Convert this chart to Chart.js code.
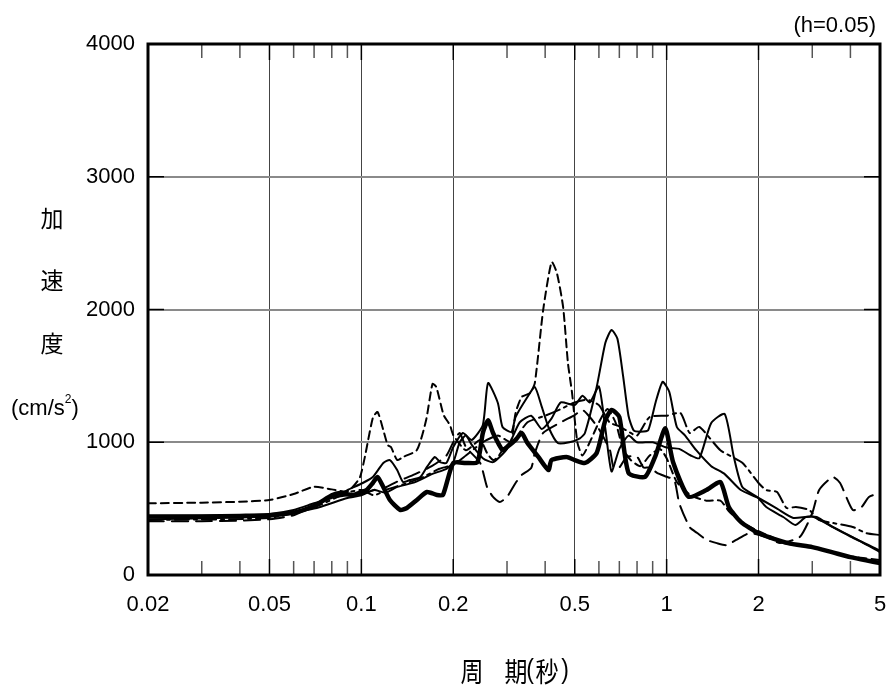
<!DOCTYPE html>
<html>
<head>
<meta charset="utf-8">
<script src="https://cdn.jsdelivr.net/npm/chart.js@4.4.1/dist/chart.umd.min.js"></script>
<style>
  body { margin: 0; background: #fff; }
  canvas { display: block; }
</style>
</head>
<body>
<canvas id="spectrum" width="888" height="689"></canvas>
<script>
// tick values
const xTicks = [0.02, 0.05, 0.1, 0.2, 0.5, 1, 2, 5];
const xMinor = [0.03, 0.04, 0.06, 0.07, 0.08, 0.09, 0.3, 0.4, 0.6, 0.7, 0.8, 0.9, 3, 4];
const yTicks = [0, 1000, 2000, 3000, 4000];

// thick solid
const periodThick = [0.02, 0.03, 0.04, 0.05, 0.06, 0.07, 0.08, 0.085, 0.094, 0.1, 0.104, 0.109, 0.113, 0.118, 0.124,
    0.134, 0.141, 0.152, 0.164, 0.177, 0.185, 0.2, 0.22, 0.24, 0.25, 0.26, 0.27, 0.29, 0.3, 0.32, 0.335, 0.35, 0.38,
    0.41, 0.42, 0.47, 0.5, 0.54, 0.59, 0.63, 0.66, 0.7, 0.75, 0.85, 0.92, 0.99, 1.05, 1.18, 1.35, 1.5, 1.6, 1.75, 2,
    2.5, 3, 3.5, 4, 4.5, 5];
const accThick = [440, 440, 445, 450, 470, 520, 600, 617, 603, 625, 640, 693, 738, 663, 565,
    490, 505, 565, 625, 603, 603, 844, 844, 851, 1070, 1165, 1070, 941, 964, 1017, 1070, 994, 889,
    791, 866, 889, 866, 844, 919, 1168, 1243, 1190, 770, 740, 900, 1105, 850, 590, 640, 700, 510, 400, 315,
    240, 210, 170, 135, 110, 90];

// thin solid (peak near 0.66 s)
const periodThinA = [0.02, 0.04, 0.05, 0.06, 0.07, 0.08, 0.09, 0.101, 0.109, 0.118, 0.124, 0.131, 0.137, 0.144, 0.156,
    0.164, 0.174, 0.181, 0.19, 0.2, 0.215, 0.23, 0.25, 0.26, 0.28, 0.29, 0.31, 0.32, 0.35, 0.37, 0.39, 0.41, 0.44,
    0.48, 0.52, 0.54, 0.59, 0.63, 0.66, 0.69, 0.72, 0.75, 0.78, 0.82, 0.87, 0.92, 0.97, 1.02, 1.08, 1.15, 1.25,
    1.4, 1.55, 1.75, 2, 2.3, 2.6, 3, 3.5, 4, 5];
const accThinA = [445, 450, 460, 490, 540, 580, 640, 693, 738, 844, 866, 791, 700, 715, 738,
    814, 889, 851, 844, 964, 1070, 1017, 1130, 1446, 1296, 1115, 1077, 1190, 1341, 1416, 1266, 1115, 994,
    1000, 1030, 1070, 1416, 1750, 1846, 1780, 1500, 1200, 1090, 1080, 1090, 1300, 1455, 1380, 1115, 1050, 940,
    820, 760, 640, 580, 500, 430, 440, 360, 290, 185];

// thin solid (peak near 1.55 s)
const periodThinB = [0.02, 0.05, 0.07, 0.09, 0.1, 0.11, 0.12, 0.13, 0.15, 0.17, 0.19, 0.2, 0.21, 0.22, 0.23, 0.25,
    0.27, 0.3, 0.33, 0.36, 0.39, 0.42, 0.45, 0.5, 0.53, 0.56, 0.6, 0.63, 0.66, 0.7, 0.75, 0.8, 0.9, 1, 1.1, 1.2,
    1.28, 1.4, 1.55, 1.66, 1.77, 1.98, 2.12, 2.41, 2.64, 2.86, 3.1, 3.5, 4.07, 5];
const accThinB = [420, 440, 500, 580, 600, 640, 620, 660, 700, 760, 800, 850, 1000, 1050, 980, 880,
    850, 950, 1150, 1200, 1100, 1180, 1300, 1280, 1350, 1300, 1420, 1100, 780, 950, 1050, 1000, 1000, 960, 950, 900,
    880, 1145, 1213, 890, 663, 588, 512, 437, 377, 437, 437, 362, 286, 173];

// short dashed
const periodDash = [0.02, 0.03, 0.04, 0.05, 0.06, 0.07, 0.08, 0.09, 0.099, 0.109, 0.113, 0.118, 0.122, 0.125, 0.131,
    0.137, 0.152, 0.163, 0.171, 0.176, 0.186, 0.195, 0.2, 0.22, 0.245, 0.258, 0.27, 0.28, 0.29, 0.31, 0.32, 0.335,
    0.357, 0.37, 0.394, 0.42, 0.437, 0.458, 0.475, 0.49, 0.51, 0.53, 0.56, 0.6, 0.64, 0.68, 0.72, 0.76, 0.82, 0.88,
    0.95, 1, 1.08, 1.2, 1.35, 1.5, 1.6, 1.75, 2, 2.3, 2.6, 3, 3.5, 4, 5];
const accDash = [540, 545, 552, 565, 610, 665, 645, 630, 738, 1183, 1228, 1092, 979, 964, 866,
    889, 941, 1168, 1439, 1416, 1205, 1130, 1054, 940, 1017, 919, 866, 889, 941, 1017, 1220, 1341,
    1371, 1446, 1996, 2358, 2275, 2019, 1597, 1371, 1000, 900, 1000, 1150, 1250, 1150, 950, 870, 820, 900,
    950, 880, 700, 600, 560, 560, 480, 400, 330, 270, 230, 210, 170, 140, 113];

// long dashed
const periodLong = [0.02, 0.03, 0.04, 0.05, 0.06, 0.07, 0.08, 0.09, 0.1, 0.11, 0.12, 0.13, 0.15, 0.17, 0.19, 0.2,
    0.21, 0.22, 0.245, 0.258, 0.27, 0.284, 0.3, 0.32, 0.335, 0.36, 0.37, 0.394, 0.45, 0.5, 0.53, 0.56, 0.6, 0.652,
    0.67, 0.7, 0.74, 0.8, 0.84, 0.88, 0.93, 1, 1.06, 1.1, 1.19, 1.26, 1.35, 1.46, 1.57, 1.69, 1.87, 2.12, 2.35,
    2.73, 3, 3.16, 3.5, 3.7, 4.07, 4.35, 4.6, 5];
const accLong = [405, 405, 410, 420, 450, 520, 580, 600, 610, 640, 660, 700, 760, 820, 900, 1000,
    1070, 964, 844, 663, 588, 550, 588, 693, 753, 806, 919, 1070, 1150, 1205, 1243, 1190, 1100, 940,
    810, 810, 890, 890, 810, 810, 770, 740, 715, 540, 360, 316, 265, 240, 225, 264, 316, 286, 241,
    286, 467, 640, 738, 693, 490, 512, 588, 618];

// dash-dot
const periodDot = [0.02, 0.05, 0.07, 0.09, 0.1, 0.11, 0.12, 0.14, 0.16, 0.18, 0.2, 0.22, 0.25, 0.28, 0.31, 0.35,
    0.4, 0.45, 0.5, 0.55, 0.6, 0.65, 0.7, 0.75, 0.8, 0.88, 1, 1.11, 1.19, 1.28, 1.5, 1.77, 2, 2.12, 2.3, 2.47,
    2.65, 2.93, 3.15, 3.5, 4.07, 4.5, 5];
const accDot = [415, 430, 510, 620, 640, 600, 640, 690, 740, 800, 830, 900, 1000, 1050, 1000, 1150,
    1200, 1250, 1300, 1320, 1280, 1150, 1120, 1080, 1050, 1190, 1200, 1220, 1070, 1115, 940, 845, 693, 640, 625, 505,
    513, 490, 415, 392, 362, 316, 301];

function points(periods, values) {
    return periods.map((p, i) => ({ x: p, y: values[i] }));
}

const axisFont = { family: '"Liberation Sans", Arial, sans-serif', size: 22 };

const decor = {
    id: 'decor',
    afterDatasetsDraw(chart) {
        const { ctx, chartArea: a, scales: { x, y } } = chart;
        ctx.save();
        function seg(x1, y1, x2, y2) {
            ctx.beginPath();
            ctx.moveTo(x1, y1);
            ctx.lineTo(x2, y2);
            ctx.stroke();
        }
        // minor ticks on top and bottom
        ctx.strokeStyle = '#555';
        ctx.lineWidth = 1.5;
        xMinor.forEach(v => {
            const px = x.getPixelForValue(v);
            seg(px, a.bottom, px, a.bottom - 14);
            seg(px, a.top, px, a.top + 14);
        });
        // major ticks
        ctx.strokeStyle = '#000';
        xTicks.forEach(v => {
            const px = x.getPixelForValue(v);
            seg(px, a.bottom, px, a.bottom - 16);
            seg(px, a.top, px, a.top + 16);
        });
        yTicks.forEach(v => {
            const py = y.getPixelForValue(v);
            seg(a.left, py, a.left + 16, py);
            seg(a.right, py, a.right - 16, py);
        });
        // frame
        ctx.lineWidth = 3;
        ctx.strokeRect(a.left, a.top, a.width, a.height);
        ctx.restore();
    },
    afterDraw(chart) {
        const { ctx, chartArea: a } = chart;
        ctx.save();
        ctx.fillStyle = '#000';
        ctx.textBaseline = 'middle';
        ctx.textAlign = 'center';

        // y axis title, stacked
        ctx.font = '23px "Noto Sans CJK JP", sans-serif';
        ctx.fillText('加', 52, 218);
        ctx.fillText('速', 52, 280);
        ctx.fillText('度', 52, 343);
        ctx.font = '22px "Liberation Sans", sans-serif';
        ctx.textAlign = 'left';
        let cx = 11;
        ctx.fillText('(cm/s', cx, 409);
        cx += ctx.measureText('(cm/s').width;
        ctx.font = '12px "Liberation Sans", sans-serif';
        ctx.fillText('2', cx, 400);
        cx += ctx.measureText('2').width;
        ctx.font = '22px "Liberation Sans", sans-serif';
        ctx.fillText(')', cx, 409);

        // x axis title, a little taller than wide like the original
        ctx.save();
        ctx.translate(0, 672);
        ctx.scale(1, 1.2);
        ctx.textAlign = 'center';
        ctx.font = '23px "Noto Sans CJK JP", sans-serif';
        ctx.fillText('周', 472, 0);
        ctx.fillText('期', 516, 0);
        ctx.fillText('秒', 547, 0);
        ctx.font = '23px "Liberation Sans", sans-serif';
        ctx.fillText('(', 530, -1);
        ctx.fillText(')', 565, -1);
        ctx.restore();

        // damping note
        ctx.font = '22px "Liberation Sans", sans-serif';
        ctx.textAlign = 'right';
        ctx.fillText('(h=0.05)', a.right - 4, 26);
        ctx.restore();
    }
};

new Chart(document.getElementById('spectrum'), {
    type: 'line',
    data: {
        datasets: [
            { label: 'long', data: points(periodLong, accLong), borderWidth: 2, borderDash: [16, 8] },
            { label: 'dashdot', data: points(periodDot, accDot), borderWidth: 2, borderDash: [14, 5, 3, 5] },
            { label: 'dash', data: points(periodDash, accDash), borderWidth: 2, borderDash: [8, 5] },
            { label: 'thinB', data: points(periodThinB, accThinB), borderWidth: 2 },
            { label: 'thinA', data: points(periodThinA, accThinA), borderWidth: 2 },
            { label: 'thick', data: points(periodThick, accThick), borderWidth: 4.5 }
        ]
    },
    options: {
        responsive: false,
        animation: false,
        layout: { padding: { top: 44, right: 8, left: 0, bottom: 0 } },
        elements: {
            point: { radius: 0 },
            line: { tension: 0.2, borderColor: '#000', fill: false, borderJoinStyle: 'round', borderCapStyle: 'round' }
        },
        plugins: {
            legend: { display: false },
            tooltip: { enabled: false }
        },
        scales: {
            x: {
                type: 'logarithmic',
                min: 0.02,
                max: 5,
                afterBuildTicks: s => { s.ticks = xTicks.map(v => ({ value: v })); },
                afterFit: s => {
                    s.height = 114;
                    s.paddingLeft = 0;
                    s.paddingRight = 0;
                },
                border: { display: false },
                grid: {
                    drawTicks: false,
                    lineWidth: 1,
                    color: c => (c.tick && (c.tick.value === 0.02 || c.tick.value === 5)) ? 'rgba(0,0,0,0)' : '#444'
                },
                ticks: {
                    autoSkip: false,
                    maxRotation: 0,
                    padding: 17,
                    color: '#000',
                    font: axisFont,
                    callback: v => String(v)
                }
            },
            y: {
                min: 0,
                max: 4000,
                afterBuildTicks: s => { s.ticks = yTicks.map(v => ({ value: v })); },
                afterFit: s => {
                    s.width = 148;
                    s.paddingTop = 0;
                    s.paddingBottom = 0;
                },
                border: { display: false },
                grid: {
                    drawTicks: false,
                    lineWidth: 2,
                    color: c => (c.tick && (c.tick.value === 0 || c.tick.value === 4000)) ? 'rgba(0,0,0,0)' : '#8a8a8a'
                },
                ticks: {
                    padding: 13,
                    color: '#000',
                    font: axisFont,
                    callback: v => String(v)
                }
            }
        }
    },
    plugins: [decor]
});
</script>
</body>
</html>
